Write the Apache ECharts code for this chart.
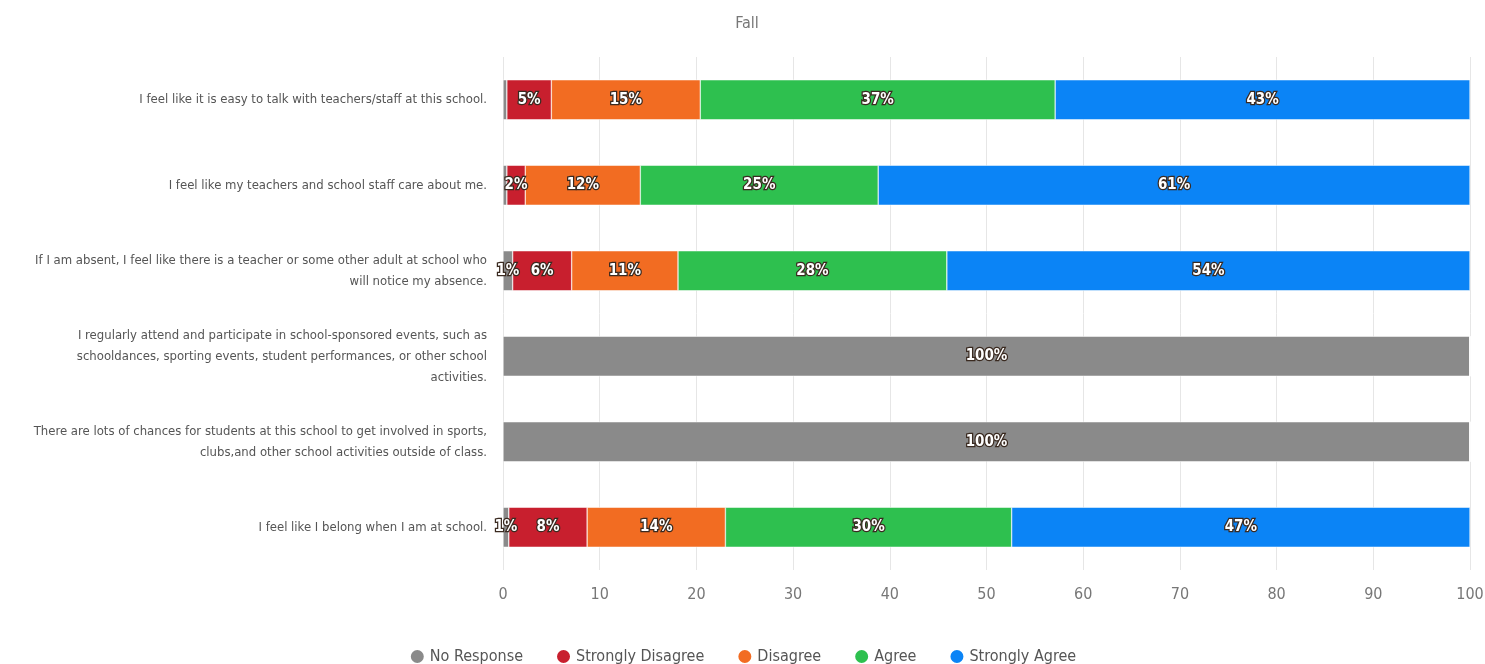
<!DOCTYPE html>
<html><head><meta charset="utf-8">
<script src="https://cdn.jsdelivr.net/npm/echarts@6/dist/echarts.min.js"></script>
<style>html,body{margin:0;padding:0;background:#fff}#c{width:1485px;height:664px}</style>
</head><body><div id="c"></div>
<script>
const title = 'Fall';
const categories = [
  'I feel like it is easy to talk with teachers/staff at this school.',
  'I feel like my teachers and school staff care about me.',
  'If I am absent, I feel like there is a teacher or some other adult at school who\nwill notice my absence.',
  'I regularly attend and participate in school-sponsored events, such as\nschooldances, sporting events, student performances, or other school\nactivities.',
  'There are lots of chances for students at this school to get involved in sports,\nclubs,and other school activities outside of class.',
  'I feel like I belong when I am at school.'
];
const seriesNames = ['No Response', 'Strongly Disagree', 'Disagree', 'Agree', 'Strongly Agree'];
const noResponse = [0.4, 0.4, 1.0, 100, 100, 0.6];
const stronglyDisagree = [4.6, 1.9, 6.1, 0, 0, 8.1];
const disagree = [15.4, 11.9, 11.0, 0, 0, 14.3];
const agree = [36.7, 24.6, 27.8, 0, 0, 29.6];
const stronglyAgree = [42.9, 61.2, 54.1, 0, 0, 47.4];
const xTicks = [0, 10, 20, 30, 40, 50, 60, 70, 80, 90, 100];

const colors = ['#8a8a8a', '#c81f2e', '#f26c22', '#2ec04f', '#0b84f6'];
const FONT = '"Liberation Sans Narrow", "DejaVu Sans Condensed", Roboto, sans-serif';
const dataSets = [noResponse, stronglyDisagree, disagree, agree, stronglyAgree];

const chart = echarts.init(document.getElementById('c'));
chart.setOption({
  animation: false,
  color: colors,
  title: {
    text: title, left: 742, top: 11, textAlign: 'center',
    textStyle: { fontFamily: FONT, fontSize: 16, fontWeight: 'normal', color: '#777' }
  },
  legend: {
    data: seriesNames, top: 643, left: 'center', icon: 'circle',
    itemWidth: 15, itemHeight: 15, itemGap: 32,
    textStyle: { fontFamily: FONT, fontSize: 16, color: '#555' }
  },
  grid: { left: 503, right: 15, top: 57, bottom: 94, containLabel: false, outerBoundsMode: 'none' },
  xAxis: {
    type: 'value', min: 0, max: 100, interval: 10,
    axisLine: { show: false }, axisTick: { show: false },
    splitLine: { show: true, lineStyle: { color: '#e6e6e6' } },
    axisLabel: { fontFamily: FONT, fontSize: 16, color: '#777', margin: 17,
      formatter: v => xTicks.includes(v) ? String(v) : '' }
  },
  yAxis: {
    type: 'category', data: categories, inverse: true,
    axisLine: { show: false }, axisTick: { show: false },
    axisLabel: { fontFamily: FONT, fontSize: 13, color: '#555', lineHeight: 21, margin: 16, align: 'right' }
  },
  series: seriesNames.map((n, i) => ({
    name: n, type: 'bar', stack: 'total', barWidth: 40,
    data: dataSets[i],
    itemStyle: { color: colors[i], borderColor: '#fff', borderWidth: 0.5 },
    label: {
      show: true, position: 'inside',
      formatter: p => { const r = Math.round(p.value); return r >= 1 ? r + '%' : ''; },
      fontFamily: FONT, fontSize: 15, fontWeight: 'bold', color: '#fff',
      textBorderColor: '#3a2a20', textBorderWidth: 2.5
    }
  }))
});
</script></body></html>
